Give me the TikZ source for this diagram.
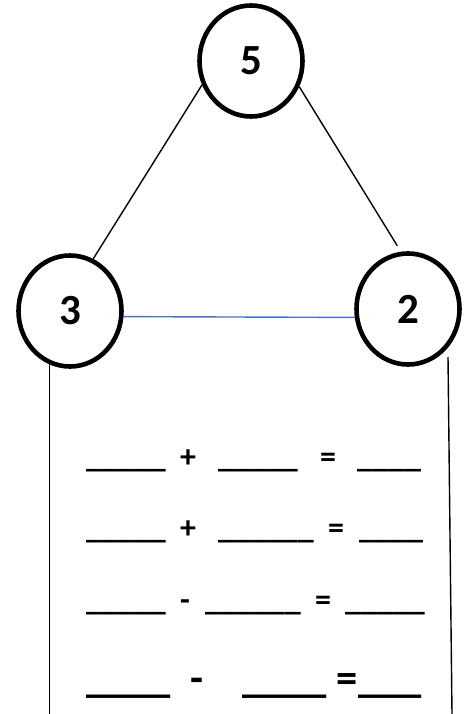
\documentclass[tikz,border=0pt]{standalone}
\usepackage{fontspec}
\setmainfont{Carlito}
\usetikzlibrary{shapes.geometric}

\definecolor{linkblue}{RGB}{68,114,196}

\tikzset{
  ring/.style={ellipse, draw=black, line width=4.6pt, inner sep=0pt,
    minimum width=103pt, minimum height=111pt,
    font=\fontsize{43}{43}\selectfont\bfseries},
  blank/.style={anchor=base west, inner sep=0pt,
    font=\fontsize{32}{32}\selectfont\bfseries},
  sign/.style={anchor=base, inner sep=0pt,
    font=\fontsize{32}{32}\selectfont\bfseries},
  big/.style={font=\fontsize{42.5}{42.5}\selectfont\bfseries},
  edge/.style={draw=black, line width=1.4pt},
}

\begin{document}
\begin{tikzpicture}[x=1pt, y=-1pt]
      \useasboundingbox (0,0) rectangle (468,714);

      % number bond
      \node[ring] (whole) at (251,61) {5};
      \node[ring] (partA) at (70,311) {3};
      \node[ring] (partB) at (408,309) {2};

      \draw[edge] (whole.206) -- (partA.66);
      \draw[edge, shorten >=7pt] (whole.332) -- (partB.97);
      \draw[line width=1.4pt, linkblue] (partA.-6) -- (partB.189);

      % side rails
      \coordinate (lbot) at (50,714);
      \coordinate (rtop) at (448,357);
      \coordinate (rbot) at (452,714);
      \draw[edge] (partA.249) -- (partA.249 |- lbot);
      \draw[edge] (rtop) -- (rbot);

      % row 1
      \node[blank] (r1a) at (86,467) {\_\_\_\_\_};
      \node[sign]  (r1p) at (188,467) {+};
      \node[blank] (r1b) at (218,467) {\_\_\_\_\_};
      \node[sign]  (r1e) at (328,467) {=};
      \node[blank] (r1c) at (357,467) {\_\_\_\_};

      % row 2
      \node[blank] (r2a) at (86,538) {\_\_\_\_\_};
      \node[sign]  (r2p) at (188,538) {+};
      \node[blank] (r2b) at (218,538) {\_\_\_\_\_\_};
      \node[sign]  (r2e) at (336,538) {=};
      \node[blank] (r2c) at (359,538) {\_\_\_\_};

      % row 3
      \node[blank] (r3a) at (86,610) {\_\_\_\_\_};
      \node[sign]  (r3m) at (185,610) {-};
      \node[blank] (r3b) at (205,610) {\_\_\_\_\_\_};
      \node[sign]  (r3e) at (323,610) {=};
      \node[blank] (r3c) at (345,610) {\_\_\_\_\_};

      % row 4
      \node[blank, big] (r4a) at (86,692) {\_\_\_\_};
      \node[sign, big]  (r4m) at (197,692) {-};
      \node[blank, big] (r4b) at (242,692) {\_\_\_\_};
      \node[sign, big]  (r4e) at (347,692) {=};
      \node[blank, big] (r4c) at (358,692) {\_\_\_};
    \end{tikzpicture}
\end{document}
